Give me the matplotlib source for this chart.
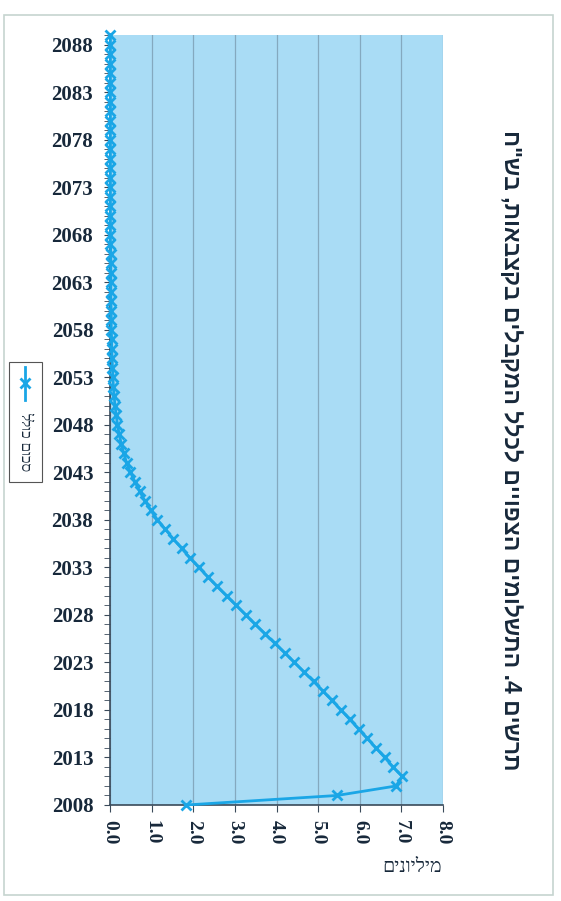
import matplotlib
matplotlib.use("Agg")
import matplotlib.pyplot as plt
from matplotlib.lines import Line2D
from matplotlib.patches import Rectangle

# data (millions)
years = list(range(2008, 2090))
values = [
    1.83, 5.45, 6.87, 7.02, 6.80, 6.60, 6.39, 6.18, 5.97, 5.76,   # 2008-2017
    5.55, 5.33, 5.11, 4.89, 4.66, 4.43, 4.20, 3.96, 3.73, 3.49,   # 2018-2027
    3.26, 3.03, 2.80, 2.57, 2.35, 2.13, 1.92, 1.72, 1.52, 1.33,   # 2028-2037
    1.14, 0.98, 0.84, 0.71, 0.60, 0.49, 0.40, 0.33, 0.27, 0.22,   # 2038-2047
    0.18, 0.15, 0.12, 0.10, 0.08, 0.07, 0.06, 0.05, 0.04, 0.04,   # 2048-2057
    0.03, 0.03, 0.03, 0.02, 0.02, 0.02, 0.02, 0.02, 0.02, 0.01,   # 2058-2067
    0.01, 0.01, 0.01, 0.01, 0.01, 0.01, 0.01, 0.01, 0.01, 0.01,   # 2068-2077
    0.01, 0.01, 0.01, 0.01, 0.01, 0.01, 0.01, 0.01, 0.01, 0.01,   # 2078-2087
    0.01, 0.01,                                                   # 2088-2089
]
year_ticks = list(range(2008, 2089, 5))
value_ticks = [0, 1, 2, 3, 4, 5, 6, 7, 8]

title = 'תרשים 4. התשלומים הצפויים לכלל המקבלים בקצבאות, בש"ח'
series_name = "סכום כולל"
unit_label = "מיליונים"

line_color = "#1aa6e6"
text_color = "#17283a"


def vis(s):
    # matplotlib has no bidi support, so flip Hebrew to visual order
    return s[::-1]


fig = plt.figure(figsize=(5.61, 9.01), dpi=100)
fig.patch.set_facecolor("white")

# faint chart-area frame
fig.add_artist(Rectangle((4 / 561, 6 / 901), 549 / 561, 880 / 901,
                         transform=fig.transFigure, fill=False,
                         edgecolor="#c6d4d0", linewidth=1.2))

ax = fig.add_axes([110 / 561, 96 / 901, 333 / 561, 770 / 901])
ax.set_facecolor("#a9dcf5")

ax.plot(values, years, color=line_color, linewidth=2, marker="x",
        markersize=7, markeredgewidth=2, clip_on=False, zorder=3)

ax.set_xlim(0, 8)
ax.set_ylim(2008, 2089)
ax.set_xticks(value_ticks)
ax.set_xticklabels([f"{v:.1f}" for v in value_ticks], rotation=-90,
                   fontfamily="Liberation Serif", fontweight="bold",
                   fontsize=14, color=text_color)
ax.set_yticks(year_ticks)
ax.set_yticklabels([str(y) for y in year_ticks],
                   fontfamily="Liberation Serif", fontweight="bold",
                   fontsize=15, color=text_color)
ax.set_yticks(years, minor=True)
ax.tick_params(axis="y", which="both", direction="out", length=4,
               color="#3a4a5a", pad=8)
ax.tick_params(axis="x", direction="out", length=5, color="#3a4a5a", pad=6)

ax.grid(axis="x", color="#84a9bf", linewidth=0.9)
ax.set_axisbelow(True)
for side in ["top", "right"]:
    ax.spines[side].set_visible(False)
for side in ["left", "bottom"]:
    ax.spines[side].set_color("#3a4a5a")
    ax.spines[side].set_linewidth(1.2)

# unit label under the value axis
fig.text(442 / 561, 1 - 867 / 901, vis(unit_label), ha="right", va="center",
         fontfamily="Liberation Serif", fontsize=14, color=text_color)

# title, turned on its side
fig.text(510 / 561, 1 - 450 / 901, vis(title), rotation=-90,
         ha="center", va="center", fontfamily="Liberation Sans",
         fontweight="bold", fontsize=16.5, color=text_color)

# legend box, turned on its side
fig.add_artist(Rectangle((9 / 561, 1 - 482 / 901), 33 / 561, 120 / 901,
                         transform=fig.transFigure, facecolor="white",
                         edgecolor="#555555", linewidth=0.8))
fig.add_artist(Line2D([25 / 561, 25 / 561], [1 - 367 / 901, 1 - 400 / 901],
                      transform=fig.transFigure, color=line_color,
                      linewidth=2))
fig.add_artist(Line2D([25 / 561], [1 - 383 / 901], transform=fig.transFigure,
                      color=line_color, marker="x", markersize=7,
                      markeredgewidth=2, linestyle="none"))
fig.text(25 / 561, 1 - 442 / 901, vis(series_name), rotation=-90,
         ha="center", va="center", fontfamily="Liberation Serif",
         fontsize=11, color=text_color)

fig.savefig("out.png", dpi=100)
